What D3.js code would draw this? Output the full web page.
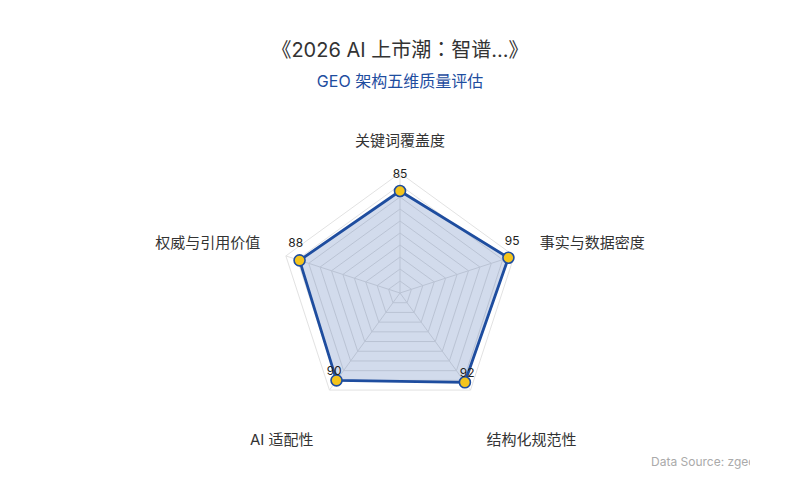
<!DOCTYPE html>
<html>
<head>
<meta charset="utf-8">
<script src="https://cdn.jsdelivr.net/npm/d3@7"></script>
<style>
  html, body { margin: 0; padding: 0; background: #fff; }
  text { font-family: Inter, "Noto Sans CJK SC", sans-serif; }
</style>
</head>
<body>
<script>
// --- Daten ---
const indicators = ["关键词覆盖度", "事实与数据密度", "结构化规范性", "AI 适配性", "权威与引用价值"];
const scores = [85, 95, 92, 90, 88];
const maxScore = 100;
const ringLevels = [10, 20, 30, 40, 50, 60, 70, 80, 90, 100];

const width = 800, height = 500;
const cx = 400, cy = 293, R = 120;
const blue = "#1e4d9f";

const svg = d3.select("body").append("svg")
  .attr("width", width).attr("height", height);

// Titel (Doppelpunkt mit TC-Schrift, damit er zentriert steht)
const title = svg.append("text")
  .attr("x", 400).attr("y", 57)
  .attr("text-anchor", "middle")
  .attr("font-size", 20)
  .attr("fill", "#333");
title.append("tspan").text("《2026 AI 上市潮");
title.append("tspan").attr("font-family", "'Noto Sans CJK TC'").text("：");
title.append("tspan").text("智谱...》");

svg.append("text")
  .attr("x", 400).attr("y", 87)
  .attr("text-anchor", "middle")
  .attr("font-size", 16)
  .attr("fill", blue)
  .text("GEO 架构五维质量评估");

// Skalen
const r = d3.scaleLinear().domain([0, maxScore]).range([0, R]);
const angle = d3.scalePoint().domain(indicators).range([0, 2 * Math.PI * (indicators.length - 1) / indicators.length]);
const px = (name, v) => cx + r(v) * Math.sin(angle(name));
const py = (name, v) => cy - r(v) * Math.cos(angle(name));

const g = svg.append("g");

// Ringe
const ring = d3.line();
g.selectAll("path.ring")
  .data(ringLevels)
  .enter().append("path")
  .attr("class", "ring")
  .attr("d", lv => ring(indicators.map(n => [px(n, lv), py(n, lv)])) + "Z")
  .attr("fill", "none")
  .attr("stroke", "#e2e2e2")
  .attr("stroke-width", 1);

// Achsen
g.selectAll("line.axis")
  .data(indicators)
  .enter().append("line")
  .attr("x1", cx).attr("y1", cy)
  .attr("x2", n => px(n, maxScore)).attr("y2", n => py(n, maxScore))
  .attr("stroke", "#e2e2e2");

// Achsennamen
const gap = 147;
g.selectAll("text.name")
  .data(indicators)
  .enter().append("text")
  .attr("class", "name")
  .attr("x", n => cx + gap * Math.sin(angle(n)))
  .attr("y", n => {
    const c = Math.cos(angle(n));
    const y = cy - gap * c;
    return c < 0 ? y + 33 : y;
  })
  .attr("text-anchor", n => {
    const s = Math.sin(angle(n));
    return Math.abs(s) < 0.01 ? "middle" : (s > 0 ? "start" : "end");
  })
  .attr("font-size", 15)
  .attr("fill", "#333")
  .text(n => n);

// Fläche
const pts = indicators.map((n, i) => [px(n, scores[i]), py(n, scores[i])]);
g.append("path")
  .attr("d", ring(pts) + "Z")
  .attr("fill", "rgba(30,77,159,0.2)")
  .attr("stroke", blue)
  .attr("stroke-width", 2.8)
  .attr("stroke-linejoin", "round");

// Punkte
g.selectAll("circle.pt")
  .data(indicators)
  .enter().append("circle")
  .attr("cx", (n, i) => px(n, scores[i]))
  .attr("cy", (n, i) => py(n, scores[i]))
  .attr("r", 5.5)
  .attr("fill", "#f4c41c")
  .attr("stroke", blue)
  .attr("stroke-width", 1.6);

// Werte
g.selectAll("text.val")
  .data(indicators)
  .enter().append("text")
  .attr("x", (n, i) => px(n, scores[i]) + 4 * Math.sin(angle(n)))
  .attr("y", (n, i) => py(n, scores[i]) - (Math.cos(angle(n)) < 0 ? 5 : 13))
  .attr("text-anchor", "middle")
  .attr("font-size", 12)
  .attr("fill", "#222")
  .text((n, i) => scores[i]);

// Quelle (abgeschnitten)
svg.append("clipPath").attr("id", "clip")
  .append("rect").attr("x", 0).attr("y", 0).attr("width", 750).attr("height", 500);
svg.append("text")
  .attr("clip-path", "url(#clip)")
  .attr("x", 651).attr("y", 466)
  .attr("font-size", 12)
  .attr("fill", "#aaa")
  .text("Data Source: zgeo.ai");
</script>
</body>
</html>
